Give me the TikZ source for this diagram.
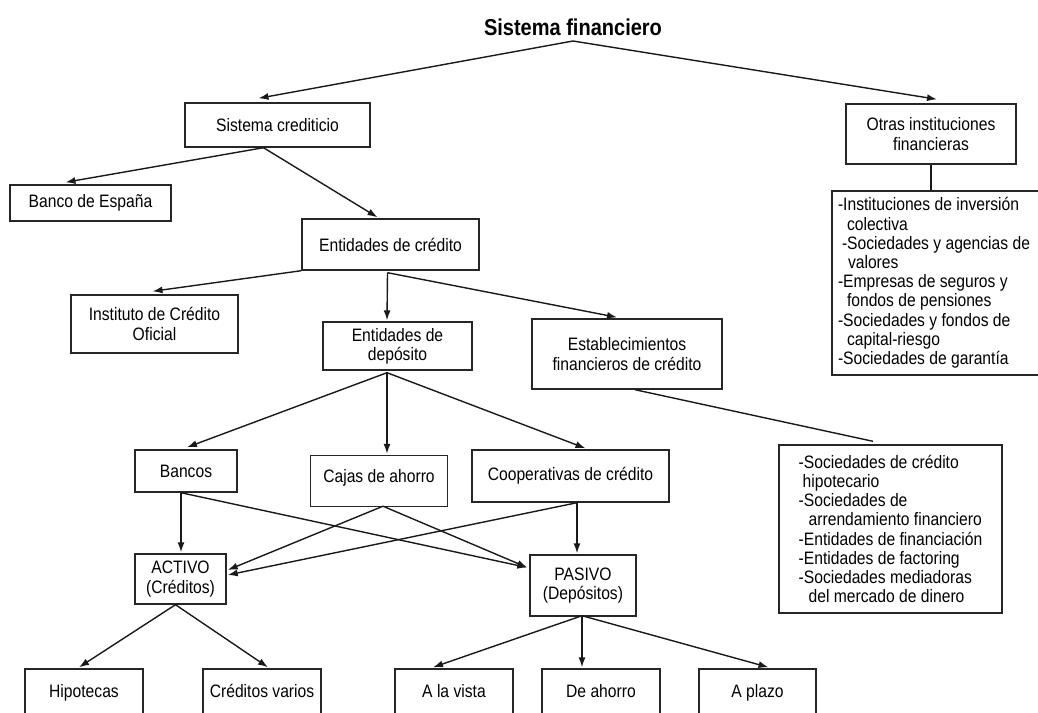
\documentclass[tikz,border=0pt]{standalone}
\usepackage{fontspec}
\setmainfont{Liberation Sans}[FakeStretch=0.87]
\usetikzlibrary{arrows.meta,calc}

\begin{document}
\begin{tikzpicture}[
  x=0.5pt, y=-0.5pt,
  box/.style={draw=black!85, line width=0.7pt, inner sep=0pt, align=center, font=\fontsize{9}{9.6}\selectfont},
  lista/.style={box, align=flush left},
  hoja/.style={box, text height=7pt, text depth=2pt},
  sz/.style 2 args={minimum width=#1*0.5pt, minimum height=#2*0.5pt},
  flecha/.style={draw=black!90, line width=0.7pt, -{Latex[length=5pt,width=3.5pt]}},
  linea/.style={draw=black!90, line width=0.7pt}
]
  \useasboundingbox (0,0) rectangle (1038,712);
  \clip (0,0) rectangle (1038,712);

  \node[font=\bfseries\fontsize{11.5}{13}\selectfont] (titulo) at (573,27) {Sistema financiero};
  \coordinate (vertice) at (573,41);

  \node[box, sz={185}{44}] (crediticio) at (277.5,125) {Sistema crediticio};
  \node[box, sz={161}{36}] (banco) at (90.5,203) {Banco de España};
  \node[box, sz={177}{51}] (entcredito) at (390.5,244.5) {Entidades de crédito};
  \node[box, sz={167}{58}] (ico) at (154.5,324) {Instituto de Crédito\\Oficial};
  \node[box, sz={149}{48}] (entdeposito) at (397.5,346) {Entidades de\\depósito};
  \node[box, sz={190}{70}] (establec) at (627,354) {Establecimientos\\financieros de crédito};
  \node[box, sz={170}{60}] (otras) at (931,134) {Otras instituciones\\financieras};
  \node[lista, sz={212}{184}, inner xsep=3pt, text width=100pt] (otraslista) at (938,283) {-Instituciones de inversión\\
    \hspace*{4.5pt}colectiva\\
    \hspace*{2pt}-Sociedades y agencias de\\
    \hspace*{5pt}valores\\
    -Empresas de seguros y\\
    \hspace*{4.5pt}fondos de pensiones\\
    -Sociedades y fondos de\\
    \hspace*{4.5pt}capital-riesgo\\
    -Sociedades de garantía};
  \node[lista, sz={223}{168}] (estlista) at (890.5,529) {-Sociedades de crédito\\
    \hspace*{2pt}hipotecario\\
    -Sociedades de\\
    \hspace*{5pt}arrendamiento financiero\\
    -Entidades de financiación\\
    -Entidades de factoring\\
    -Sociedades mediadoras\\
    \hspace*{5pt}del mercado de dinero};

  \node[box, sz={102}{42}] (bancos) at (186,471) {Bancos};
  \node[box, sz={137}{51}] (cajas) at (379,481) {\raisebox{5pt}{Cajas de ahorro}};
  \node[box, sz={197}{52}] (coop) at (570.5,476) {Cooperativas de crédito};
  \node[box, sz={91}{50}] (activo) at (180.5,579) {ACTIVO\\(Créditos)};
  \node[box, sz={106}{61}] (pasivo) at (583,585.5) {PASIVO\\(Depósitos)};

  \node[hoja, sz={118}{46}] (hipotecas) at (84,692) {Hipotecas};
  \node[hoja, sz={118}{46}] (creditosv) at (262,692) {Créditos varios};
  \node[hoja, sz={118}{46}] (vista) at (454,692) {A la vista};
  \node[hoja, sz={118}{46}] (deahorro) at (601,692) {De ahorro};
  \node[hoja, sz={117}{46}] (plazo) at (757.5,692) {A plazo};

  \draw[flecha] (vertice) -- ($(crediticio.north)+(-19,-4)$);
  \draw[flecha] (vertice) -- ($(otras.north)+(6,-4)$);
  \draw[linea] (otras.south) -- (otras.south |- otraslista.north);

  \draw[flecha] ($(crediticio.south)+(-14,0)$) -- ($(banco.north)+(-25,-2)$);
  \draw[flecha] ($(crediticio.south)+(-14,0)$) -- ($(entcredito.north)+(-13,-1)$);

  \draw[flecha] (entcredito.south west) -- ($(ico.north)+(-2,-3)$);
  \draw[flecha] ($(entcredito.south)+(-3,2)$) -- ($(entdeposito.north)+(-10.5,-1)$);
  \draw[flecha] ($(entcredito.south)+(-3,2)$) -- ($(establec.north)+(-10,-1)$);
  \draw[linea] ($(establec.south)+(8,0)$) -- ($(estlista.north)+(-17.5,-3)$);

  \draw[flecha] ($(entdeposito.south)+(-10.5,2)$) -- ($(bancos.north)+(1,-2)$);
  \draw[flecha] ($(entdeposito.south)+(-10.5,2)$) -- ($(cajas.north)+(8,-1)$);
  \draw[flecha] ($(entdeposito.south)+(-10.5,2)$) -- ($(coop.north)+(15,-1)$);

  \draw[flecha] ($(bancos.south)+(-5,0)$) -- ($(activo.north)+(0.5,-1)$);
  \draw[flecha] ($(bancos.south)+(-5,0)$) -- ($(pasivo.west)+(-2,-18)$);
  \draw[flecha] ($(cajas.south)+(4,-1)$) -- ($(activo.east)+(1,-9)$);
  \draw[flecha] ($(cajas.south)+(4,-1)$) -- ($(pasivo.west)+(-2,-18)$);
  \draw[flecha] ($(coop.south)+(6.5,0)$) -- ($(activo.east)+(1,-4)$);
  \draw[flecha] ($(coop.south)+(6.5,0)$) -- ($(pasivo.north)+(-6,-1)$);

  \draw[flecha] ($(activo.south)+(-5,0)$) -- ($(hipotecas.north)+(-5,-1)$);
  \draw[flecha] ($(activo.south)+(-5,0)$) -- ($(creditosv.north)+(6,-1)$);
  \draw[flecha] ($(pasivo.south)+(-1,-1)$) -- ($(vista.north)+(-21,-1)$);
  \draw[flecha] ($(pasivo.south)+(-1,-1)$) -- ($(deahorro.north)+(-19,-1)$);
  \draw[flecha] ($(pasivo.south)+(-1,-1)$) -- ($(plazo.north)+(11,-1)$);
\end{tikzpicture}
\end{document}
